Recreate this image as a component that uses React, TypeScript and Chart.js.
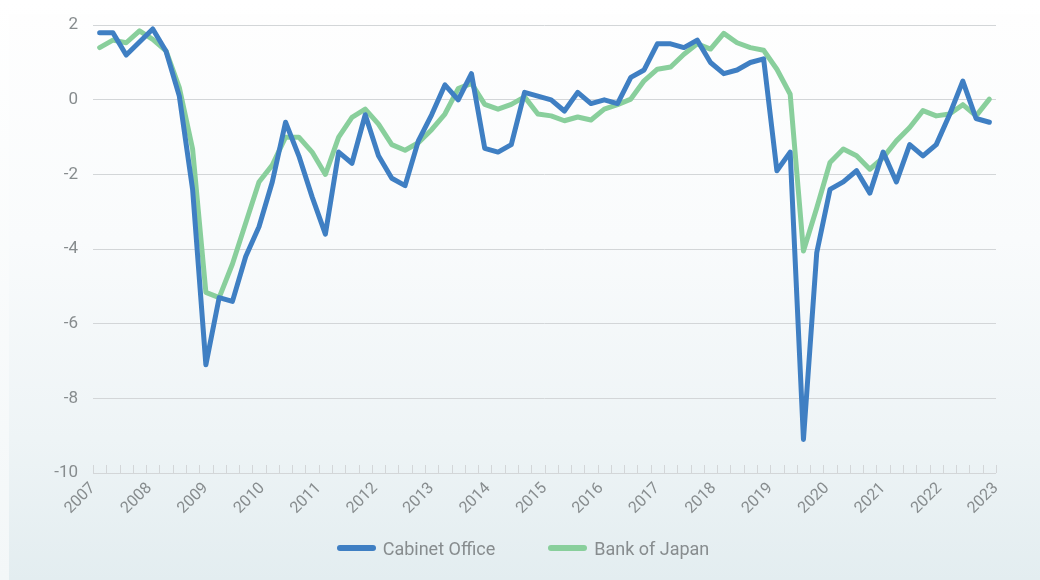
import { useEffect, useRef } from 'react';
import { Chart, registerables } from 'chart.js';

Chart.register(...registerables);

// Year labels along the bottom and the quarterly categories they cover
const YEARS = [
  '2007', '2008', '2009', '2010', '2011', '2012', '2013', '2014', '2015',
  '2016', '2017', '2018', '2019', '2020', '2021', '2022', '2023',
];
const QUARTERS = YEARS.flatMap((y) => ['Q1', 'Q2', 'Q3', 'Q4'].map((q) => `${y} ${q}`));

// Output gap estimates, % (quarterly)
const CABINET_OFFICE = [
  1.8, 1.8, 1.2, 1.55, 1.9, 1.3, 0.1, -2.4, -7.1, -5.3,
  -5.4, -4.2, -3.4, -2.2, -0.6, -1.5, -2.6, -3.6, -1.4, -1.7,
  -0.4, -1.5, -2.1, -2.3, -1.1, -0.4, 0.4, 0.0, 0.7, -1.3,
  -1.4, -1.2, 0.2, 0.1, 0.0, -0.3, 0.2, -0.1, 0.0, -0.1,
  0.6, 0.8, 1.5, 1.5, 1.4, 1.6, 1.0, 0.7, 0.8, 1.0,
  1.1, -1.9, -1.4, -9.1, -4.1, -2.4, -2.2, -1.9, -2.5, -1.4,
  -2.2, -1.2, -1.5, -1.2, -0.4, 0.5, -0.5, -0.6,
];

const BANK_OF_JAPAN = [
  1.4, 1.6, 1.53, 1.85, 1.62, 1.31, 0.33, -1.32, -5.16, -5.3,
  -4.4, -3.3, -2.2, -1.75, -1.0, -1.0, -1.4, -2.0, -1.0, -0.47,
  -0.25, -0.65, -1.2, -1.35, -1.15, -0.8, -0.38, 0.3, 0.44, -0.12,
  -0.25, -0.12, 0.08, -0.38, -0.43, -0.56, -0.46, -0.54, -0.25, -0.13,
  0.02, 0.51, 0.82, 0.88, 1.22, 1.5, 1.36, 1.78, 1.53, 1.4,
  1.33, 0.82, 0.15, -4.05, -2.9, -1.68, -1.32, -1.5, -1.86, -1.55,
  -1.1, -0.74, -0.29, -0.43, -0.38, -0.13, -0.43, 0.02,
];

const SERIES = [
  { label: 'Cabinet Office', data: CABINET_OFFICE, color: '#3f7fc3' },
  { label: 'Bank of Japan', data: BANK_OF_JAPAN, color: '#89cf9c' },
];

const Y_MIN = -10;
const Y_MAX = 2;
const Y_STEP = 2;

const GRID = '#d3d6d8';
const TEXT = '#878c8e';
const FONT = 'Roboto, "Noto Sans", sans-serif';

// Short upward tick marks on the base line, one at every quarter boundary
const quarterTicks = {
  id: 'quarterTicks',
  beforeDatasetsDraw(chart: any) {
    const { ctx, chartArea } = chart;
    const xs = chart.scales.x;
    const n = QUARTERS.length;
    ctx.save();
    ctx.strokeStyle = GRID;
    ctx.lineWidth = 1;
    ctx.beginPath();
    for (let i = 0; i <= n; i++) {
      let x: number;
      if (i === 0) x = chartArea.left;
      else if (i === n) x = chartArea.right;
      else x = (xs.getPixelForValue(i - 1) + xs.getPixelForValue(i)) / 2;
      const px = Math.round(x) + 0.5;
      ctx.moveTo(px, chartArea.bottom - 8);
      ctx.lineTo(px, chartArea.bottom);
    }
    ctx.stroke();
    ctx.restore();
  },
};

export default function App() {
  const canvasRef = useRef<HTMLCanvasElement | null>(null);

  useEffect(() => {
    const canvas = canvasRef.current;
    if (!canvas) return;
    const chart = new Chart(canvas, {
      type: 'line',
      data: {
        labels: QUARTERS,
        datasets: SERIES.map((s) => ({
          label: s.label,
          data: s.data,
          borderColor: s.color,
          backgroundColor: s.color,
          borderWidth: 5,
          pointRadius: 0,
          tension: 0,
          borderJoinStyle: 'round' as const,
          borderCapStyle: 'round' as const,
          xAxisID: 'x',
        })),
      },
      plugins: [quarterTicks],
      options: {
        responsive: false,
        animation: false,
        layout: { padding: { left: 0, top: 24, right: 44, bottom: 57 } },
        scales: {
          x: {
            type: 'category',
            display: false,
            offset: true,
          },
          years: {
            type: 'category',
            labels: YEARS,
            position: 'bottom',
            offset: false,
            grid: { display: false, drawTicks: false },
            border: { display: false },
            ticks: {
              autoSkip: false,
              minRotation: 45,
              maxRotation: 45,
              padding: 6,
              color: TEXT,
              font: { family: FONT, size: 16 },
            },
            afterFit: (s: any) => {
              s.height = 50;
            },
          },
          y: {
            min: Y_MIN,
            max: Y_MAX,
            ticks: {
              stepSize: Y_STEP,
              padding: 15,
              color: TEXT,
              font: { family: FONT, size: 17 },
            },
            grid: { color: GRID, lineWidth: 1, drawTicks: false },
            border: { display: false },
            afterFit: (s: any) => {
              s.width = 93;
            },
          },
        },
        plugins: {
          legend: { display: false },
          tooltip: { enabled: false },
        },
      },
    });
    return () => chart.destroy();
  }, []);

  return (
    <div
      style={{
        position: 'fixed',
        left: 0,
        top: 0,
        width: 1040,
        height: 580,
        background: 'linear-gradient(to bottom, #ffffff, #f3f7f8)',
      }}
    >
      <div
        style={{
          position: 'absolute',
          left: 9,
          top: 14,
          right: 0,
          bottom: 0,
          background: 'linear-gradient(to bottom, #fefefe 0%, #f9fbfc 40%, #eef4f6 75%, #e3edf0 100%)',
        }}
      />
      <canvas
        ref={canvasRef}
        width={1040}
        height={580}
        style={{ position: 'absolute', left: 0, top: 0, width: 1040, height: 580 }}
      />
      <div
        style={{
          position: 'absolute',
          left: 0,
          width: 1040,
          top: 536,
          height: 24,
          display: 'flex',
          justifyContent: 'center',
          alignItems: 'center',
          gap: 53,
          paddingLeft: 6,
          boxSizing: 'border-box',
          fontFamily: FONT,
          fontSize: 18,
          color: TEXT,
        }}
      >
        {SERIES.map((s) => (
          <div key={s.label} style={{ display: 'flex', alignItems: 'center', gap: 7 }}>
            <span
              style={{
                display: 'inline-block',
                width: 39,
                height: 6,
                borderRadius: 3,
                background: s.color,
              }}
            />
            <span>{s.label}</span>
          </div>
        ))}
      </div>
    </div>
  );
}
